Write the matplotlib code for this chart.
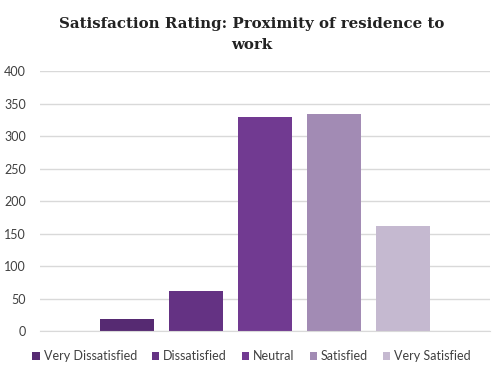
import matplotlib
matplotlib.use("Agg")
import matplotlib.pyplot as plt
from matplotlib.patches import Patch

categories = ["Very Dissatisfied", "Dissatisfied", "Neutral", "Satisfied", "Very Satisfied"]
values = [19, 62, 330, 335, 162]
colors = ["#562a72", "#643283", "#713a91", "#a28bb4", "#c5b9d0"]
yticks = [0, 50, 100, 150, 200, 250, 300, 350, 400]

fig = plt.figure(figsize=(5.03, 3.75), dpi=100)
ax = fig.add_axes([40/503, 1-331/375, 450/503, (331-71.3)/375])

x = list(range(len(categories)))
width = 54/69
ax.bar(x, values, width=width, color=colors, zorder=3)
ax.set_xlim(-0.3913-0.8696, 4+0.3913+0.8696)
ax.set_ylim(0, 400)
ax.set_yticks(yticks)
ax.set_yticklabels([str(t) for t in yticks], fontsize=9, color="#404040", fontfamily="Lato")
ax.set_xticks([])
ax.tick_params(axis="y", length=0, pad=10)
ax.grid(axis="y", color="#d9d9d9", linewidth=1, zorder=0)
for s in ["top", "right", "left"]:
    ax.spines[s].set_visible(False)
ax.spines["bottom"].set_color("#d9d9d9")
ax.spines["bottom"].set_zorder(4)

fig.text(0.5, 1-34.5/375, "Satisfaction Rating: Proximity of residence to\nwork", ha="center", va="center",
         fontsize=10.8, fontweight="bold", fontfamily="DejaVu Serif", color="#222222", linespacing=1.6)

handles = [Patch(facecolor=c, edgecolor="none") for c in colors]
fig.legend(handles, categories, loc="center", bbox_to_anchor=(0.5, 1-356/375), ncol=5, frameon=False,
           prop={"family": "Lato", "size": 9}, handlelength=0.6, handleheight=0.6, handletextpad=0.3,
           columnspacing=1.2, labelcolor="#404040")

fig.savefig("out.png", dpi=100)
